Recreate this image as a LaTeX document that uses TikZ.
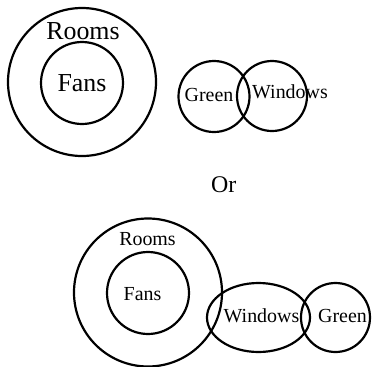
\documentclass[tikz,border=0pt]{standalone}
\usepackage{fontspec}
\setmainfont{Liberation Serif}

\begin{document}
\begin{tikzpicture}[
  x=1bp, y=-1bp,
  bordo/.style={draw=black, line width=2.2pt},
  etichetta/.style={inner sep=0pt, font=\fontsize{20}{22}\selectfont},
  etichettagrande/.style={inner sep=0pt, font=\fontsize{26}{28}\selectfont},
  congiunzione/.style={inner sep=0pt, font=\fontsize{24}{26}\selectfont}
]
\useasboundingbox (0,0) rectangle (372,367);

%--------------------------------------------------------------
% Primo caso: Fans dentro Rooms, Green e Windows sovrapposti
%--------------------------------------------------------------
\draw[bordo] (82,82) circle (74);
\draw[bordo] (82,83) circle (41);
\node[etichettagrande] (stanze1) at (83,31) {Rooms};
\node[etichettagrande] (ventilatori1) at (82,83) {Fans};
% cerchi sovrapposti
\draw[bordo] (214,96.5) circle (35.5);
\draw[bordo] (272,96) circle (35);
\node[etichetta] (verde1) at (209,95) {Green};
\node[etichetta] (finestre1) at (290,92) {Windows};

%--------------------------------------------------------------
% Congiunzione
%--------------------------------------------------------------
\node[congiunzione] (oppure) at (223.7,185) {Or};

%--------------------------------------------------------------
% Secondo caso: Windows tocca Rooms e Green
%--------------------------------------------------------------
\draw[bordo] (148,292.5) circle (74);
\draw[bordo] (148,293) circle (41);
\node[etichetta] (stanze2) at (147.5,239) {Rooms};
\node[etichetta] (ventilatori2) at (142.5,294.5) {Fans};
% ellisse e cerchio a destra
\draw[bordo] (258.5,317.5) ellipse [x radius=51.5, y radius=34.5];
\draw[bordo] (335.5,317.5) circle (34.5);
\node[etichetta] (finestre2) at (261.5,316) {Windows};
\node[etichetta] (verde2) at (342.5,316) {Green};

\end{tikzpicture}
\end{document}
